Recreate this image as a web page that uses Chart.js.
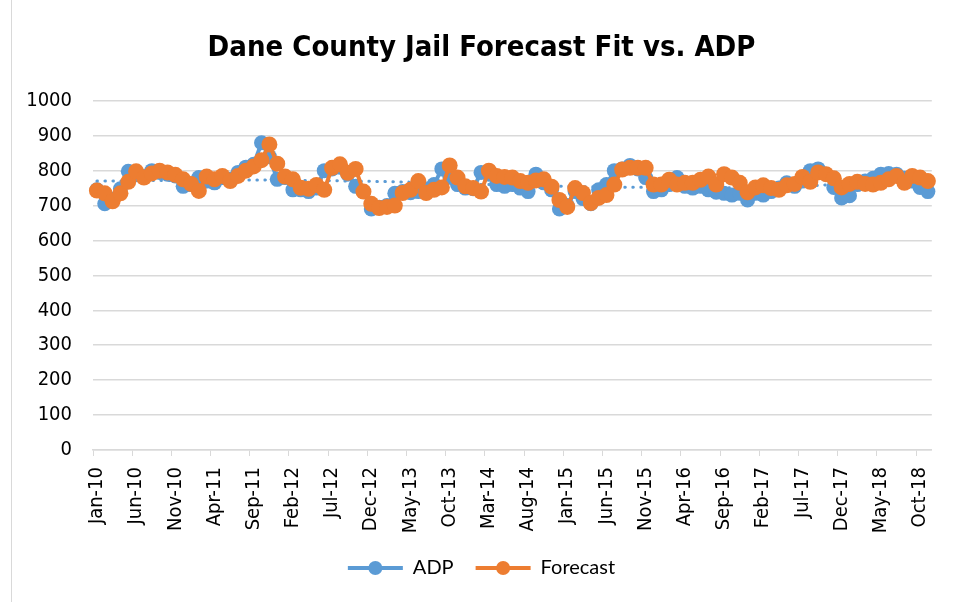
<!DOCTYPE html>
<html>
<head>
<meta charset="utf-8">
<script src="https://cdn.jsdelivr.net/npm/chart.js@4.4.1/dist/chart.umd.min.js"></script>
<style>
  html, body { margin: 0; padding: 0; background: #fff; }
  canvas { display: block; }
</style>
</head>
<body>
<canvas id="chart" width="963" height="602"></canvas>
<script>
// Month names and years used for the category labels (Jan-10 .. Nov-18)
const monthNames = ["Jan", "Feb", "Mar", "Apr", "May", "Jun", "Jul", "Aug", "Sep", "Oct", "Nov", "Dec"];
const years = ["10", "11", "12", "13", "14", "15", "16", "17", "18"];
const monthCount = 107;

// Average daily population (actual)
const adp = [
  745, 705, 718, 748, 798, 790, 783, 800, 795, 790, 785, 755,
  760, 780, 770, 765, 780, 775, 795, 810, 818, 880, 840, 775,
  780, 745, 745, 740, 750, 800, 805, 810, 790, 755, 740, 690,
  695, 700, 735, 740, 737, 740, 745, 760, 805, 785, 760, 750,
  748, 795, 790, 760, 755, 760, 750, 740, 790, 765, 745, 690,
  700, 740, 720, 705, 745, 760, 800, 805, 815, 805, 780, 740,
  745, 760, 780, 755, 750, 755, 745, 738, 735, 730, 735, 716,
  735, 730, 740, 750, 765, 755, 770, 800, 805, 790, 752, 722,
  728, 760, 770, 778, 790, 792, 790, 778, 770, 752, 740
];

// Model forecast
const forecast = [
  743, 735, 712, 735, 768, 798, 780, 792, 800, 795, 788, 775,
  762, 742, 783, 775, 785, 770, 785, 800, 812, 830, 875, 820,
  783, 775, 751, 748, 759, 745, 808, 818, 794, 805, 740, 705,
  693, 696, 700, 736, 745, 770, 736, 745, 752, 815, 780, 755,
  750, 740, 800, 785, 782, 780, 770, 765, 772, 775, 754, 716,
  696, 750, 736, 707, 722, 730, 760, 803, 808, 808, 808, 760,
  760, 774, 760, 765, 765, 774, 783, 760, 790, 780, 765, 738,
  752, 758, 750, 745, 758, 762, 782, 768, 795, 790, 778, 752,
  762, 768, 762, 760, 765, 775, 785, 765, 785, 780, 770
];

// ADP trendline at a few months
const trendMonths = ["Jan-10", "Nov-10", "Sep-11", "Jul-12", "May-13", "Mar-14", "Jan-15", "Nov-15", "Sep-16", "Jul-17", "May-18", "Nov-18"];
const trendValues = [770, 772, 773, 771, 767, 760, 755, 752, 751, 756, 768, 778];

const labels = [];
for (let i = 0; i < monthCount; i++) {
  labels.push(monthNames[i % 12] + "-" + years[Math.floor(i / 12)]);
}

const trendData = trendMonths.map((m, i) => ({ x: m, y: trendValues[i] }));

const BLUE = "#5B9BD5";
const ORANGE = "#ED7D31";
const GRID = "#d9d9d9";
const NARROW = "'DejaVu Sans Condensed', 'Liberation Sans', sans-serif";

// Draws the marker dot on top of each legend line, and the chart frame
const legendMarkers = {
  id: "legendMarkers",
  beforeDraw(chart) {
    const { ctx } = chart;
    ctx.save();
    ctx.fillStyle = "#fff";
    ctx.fillRect(0, 0, chart.width, chart.height);
    ctx.strokeStyle = GRID;
    ctx.lineWidth = 1;
    ctx.beginPath();
    ctx.moveTo(11.5, 0);
    ctx.lineTo(11.5, chart.height);
    ctx.stroke();
    ctx.restore();
  },
  afterDraw(chart) {
    const lg = chart.legend;
    if (!lg || !lg.legendHitBoxes) return;
    const { ctx } = chart;
    const boxWidth = lg.options.labels.boxWidth;
    ctx.save();
    lg.legendItems.forEach((item, i) => {
      const hb = lg.legendHitBoxes[i];
      ctx.beginPath();
      ctx.fillStyle = item.fillStyle;
      ctx.arc(hb.left + boxWidth / 2, hb.top + hb.height / 2, 7, 0, Math.PI * 2);
      ctx.fill();
    });
    ctx.restore();
  },
};

new Chart(document.getElementById("chart"), {
  type: "line",
  data: {
    labels: labels,
    datasets: [
      {
        label: "ADP",
        data: adp,
        borderColor: BLUE,
        backgroundColor: BLUE,
        borderWidth: 4,
        pointRadius: 7.5,
        pointBorderWidth: 0,
        pointBackgroundColor: BLUE,
        tension: 0,
        order: 2,
      },
      {
        label: "Forecast",
        data: forecast,
        borderColor: ORANGE,
        backgroundColor: ORANGE,
        borderWidth: 4,
        pointRadius: 8,
        pointBorderWidth: 0,
        pointBackgroundColor: ORANGE,
        tension: 0,
        order: 1,
      },
      {
        label: "Trend",
        data: trendData,
        borderColor: BLUE,
        borderWidth: 3,
        borderDash: [0.5, 7.5],
        borderCapStyle: "round",
        pointRadius: 0,
        spanGaps: true,
        cubicInterpolationMode: "monotone",
        order: 3,
      },
    ],
  },
  options: {
    responsive: false,
    animation: false,
    layout: { padding: { left: 0, right: 0, top: 0, bottom: 14 } },
    scales: {
      x: {
        offset: true,
        grid: {
          offset: true,
          drawOnChartArea: false,
          drawTicks: true,
          tickLength: 6,
          tickColor: (ctx) => (ctx.index % 5 === 0 ? GRID : "rgba(0,0,0,0)"),
        },
        border: { display: true, color: GRID, width: 1.5 },
        ticks: {
          autoSkip: false,
          minRotation: 90,
          maxRotation: 90,
          padding: 11,
          color: "#000",
          font: { family: NARROW, size: 20 },
          callback: function (val, index) {
            return index % 5 === 0 ? this.getLabelForValue(val) : "";
          },
        },
        afterFit: (scale) => { scale.height = 86; },
      },
      y: {
        min: 0,
        max: 1000,
        grid: { color: GRID, lineWidth: 1.5, drawTicks: false },
        border: { display: false },
        ticks: {
          stepSize: 100,
          padding: 21,
          color: "#000",
          font: { family: NARROW, size: 20 },
          callback: (v) => String(v),
        },
        afterFit: (scale) => { scale.width = 93; },
      },
      // empty right-hand axis, only keeps the plot clear of the right edge
      yRight: {
        position: "right",
        min: 0,
        max: 1000,
        grid: { drawOnChartArea: false, drawTicks: false },
        border: { display: false },
        ticks: { display: false },
        afterFit: (scale) => { scale.width = 26; },
      },
    },
    plugins: {
      title: {
        display: true,
        text: "Dane County Jail Forecast Fit vs. ADP",
        color: "#000",
        font: { family: NARROW, size: 29, weight: "bold", lineHeight: 1.2 },
        padding: { top: 31, bottom: 35 },
      },
      legend: {
        position: "bottom",
        labels: {
          boxWidth: 55,
          boxHeight: 4,
          padding: 22,
          color: "#000",
          font: { family: "Lato, 'Open Sans', sans-serif", size: 20 },
          filter: (item) => item.text !== "Trend",
          sort: (a, b) => a.datasetIndex - b.datasetIndex,
          generateLabels: (chart) => {
            const items = Chart.defaults.plugins.legend.labels.generateLabels(chart);
            items.forEach((it) => {
              it.fillStyle = it.strokeStyle;
              it.lineWidth = 0;
              it.lineDash = [];
            });
            return items;
          },
        },
      },
      tooltip: { enabled: false },
    },
  },
  plugins: [legendMarkers],
});
</script>
</body>
</html>
